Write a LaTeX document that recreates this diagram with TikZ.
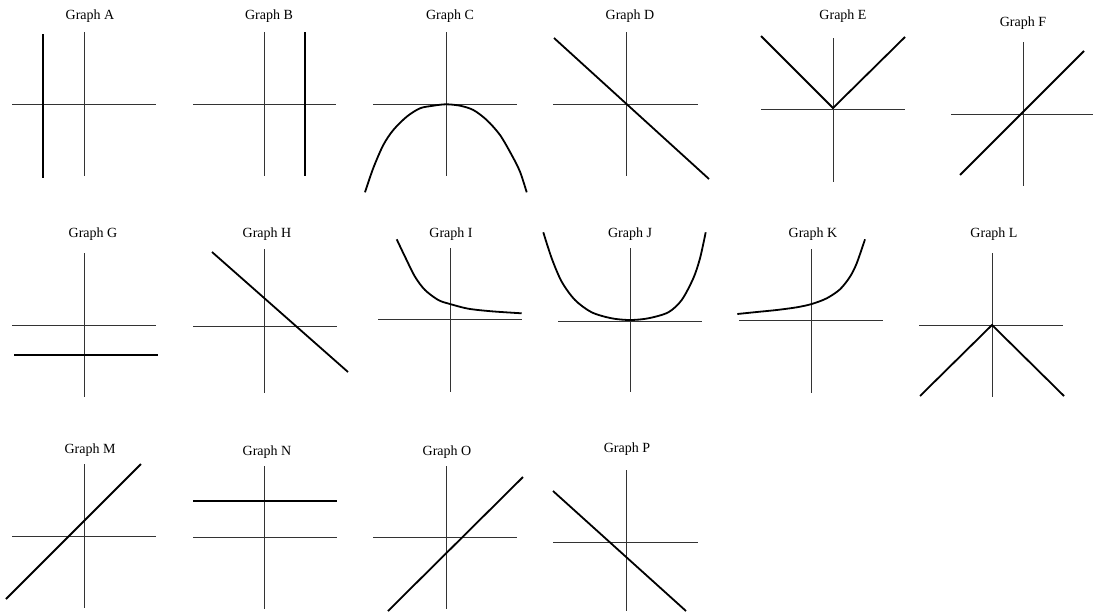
\documentclass[tikz,border=0pt]{standalone}
\usepackage{fontspec}
\setmainfont{Liberation Serif}
\begin{document}
\begin{tikzpicture}[x=1pt,y=-1pt,
  axis/.style={draw=black!80,line width=1pt},
  curve/.style={draw=black,line width=1.8pt},
  lbl/.style={font=\fontsize{14}{16}\selectfont,inner sep=0pt}]
\path[use as bounding box] (0,0) rectangle (1094,611);
% ---- Row 1 ----
% A
\node[lbl] (la) at (90,16) {Graph A};
\draw[axis] (12,104) -- (156,104); \draw[axis] (84,32) -- (84,176);
\draw[curve] (43,34) -- (43,178);
% B
\node[lbl] (lb) at (269,16) {Graph B};
\draw[axis] (193,104) -- (336,104); \draw[axis] (264,32) -- (264,176);
\draw[curve] (305,32) -- (305,176);
% C
\node[lbl] (lc) at (450,16) {Graph C};
\draw[axis] (373,104) -- (517,104); \draw[axis] (446,32) -- (446,176);
\draw[curve] plot[smooth] coordinates {(365,192.3) (373.3,168) (383.3,145) (393.3,130) (406.7,116.7) (420,108.3) (433.3,105.7) (446,104.3) (460,105.7) (473.3,110) (486.7,120) (500,135) (511.7,155) (520,171.7) (526.7,192.3)};
% D
\node[lbl] (ld) at (630,16) {Graph D};
\draw[axis] (553,104) -- (698,104); \draw[axis] (626,32) -- (626,176);
\draw[curve] (554,38) -- (709,179);
% E
\node[lbl] (le) at (843,16) {Graph E};
\draw[axis] (761,109) -- (905,109); \draw[axis] (833,38) -- (833,182);
\draw[curve,line join=miter] (761,36) -- (833,108) -- (905,37);
% F
\node[lbl] (lf) at (1023,23) {Graph F};
\draw[axis] (951,114) -- (1093,114); \draw[axis] (1023,42) -- (1023,186);
\draw[curve] (960,175) -- (1084,51);
% ---- Row 2 ----
% G
\node[lbl] (lg) at (93,234) {Graph G};
\draw[axis] (12,325) -- (156,325); \draw[axis] (84,253) -- (84,397);
\draw[curve] (14,355) -- (158,355);
% H
\node[lbl] (lh) at (267,234) {Graph H};
\draw[axis] (193,326) -- (337,326); \draw[axis] (264,249) -- (264,393);
\draw[curve] (212,252) -- (348,372);
% I
\node[lbl] (li) at (451,234) {Graph I};
\draw[axis] (378,319) -- (522,319); \draw[axis] (450,248) -- (450,392);
\draw[curve] plot[smooth] coordinates {(396.7,239.3) (405,256.7) (415,276.7) (425,290) (438.3,300) (450,304) (468.3,308.7) (491.7,311.3) (521.7,313.3)};
% J
\node[lbl] (lj) at (630,234) {Graph J};
\draw[axis] (558,321) -- (702,321); \draw[axis] (630,248) -- (630,392);
\draw[curve] plot[smooth] coordinates {(543.3,232.3) (551.7,258.3) (561.7,281.7) (575,300) (591.7,312.3) (611.7,318.3) (630,320) (648.3,318.3) (668.3,312.3) (681.7,300) (693.3,278.3) (700,258.3) (705.7,232.3)};
% K
\node[lbl] (lk) at (813,234) {Graph K};
\draw[axis] (739,320) -- (883,320); \draw[axis] (811,249) -- (811,393);
\draw[curve] plot[smooth] coordinates {(737.3,314) (756.7,312) (776.7,310) (796.7,307.3) (811.7,304) (826.7,298.3) (840,289.3) (850,276.7) (856.7,263.3) (865,239.3)};
% L
\node[lbl] (ll) at (994,234) {Graph L};
\draw[axis] (919,325) -- (1063,325); \draw[axis] (992,253) -- (992,397);
\draw[curve,line join=miter] (920,396) -- (992,325) -- (1064,396);
% ---- Row 3 ----
% M
\node[lbl] (lm) at (90,450) {Graph M};
\draw[axis] (12,536) -- (156,536); \draw[axis] (84,464) -- (84,608);
\draw[curve] (6,599) -- (141,464);
% N
\node[lbl] (ln) at (267,452) {Graph N};
\draw[axis] (193,537) -- (337,537); \draw[axis] (264,466) -- (264,609);
\draw[curve] (193,501) -- (337,501);
% O
\node[lbl] (lo) at (447,452) {Graph O};
\draw[axis] (373,537) -- (517,537); \draw[axis] (446,466) -- (446,609);
\draw[curve] (388,611) -- (523,477);
% P
\node[lbl] (lp) at (627,449) {Graph P};
\draw[axis] (553,542) -- (698,542); \draw[axis] (626,470) -- (626,611);
\draw[curve] (553,491) -- (686,611);
\end{tikzpicture}
\end{document}
